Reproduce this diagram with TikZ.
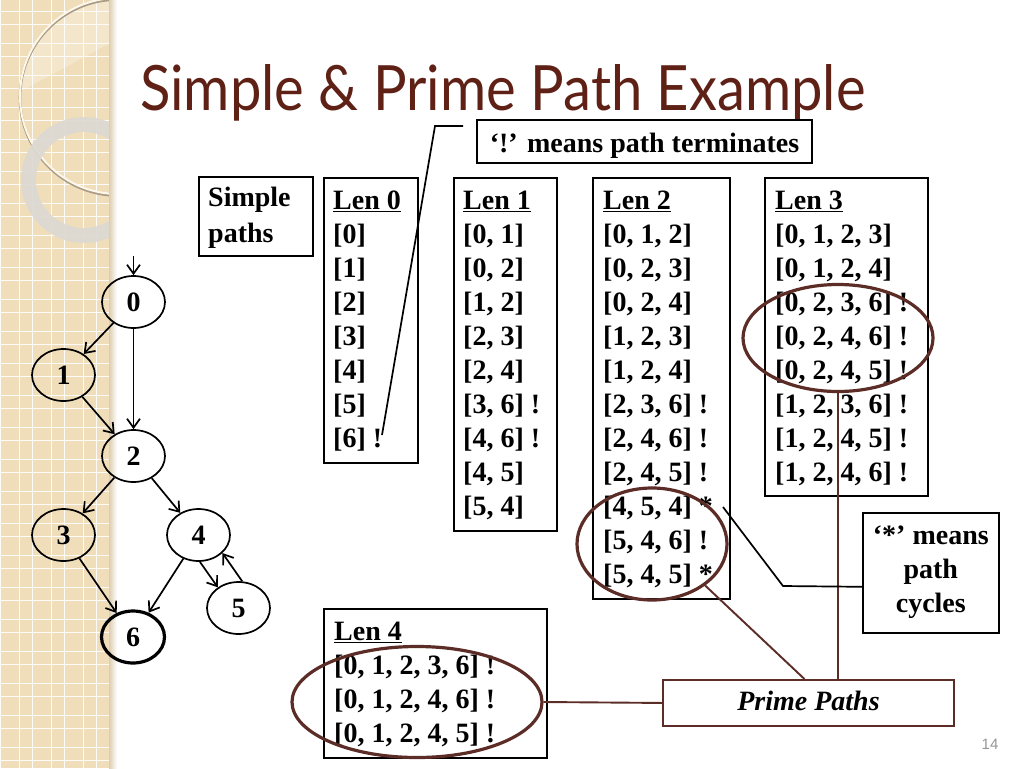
\documentclass[tikz,border=0pt]{standalone}
\usepackage{graphicx}
\usepackage{fontspec}
\setmainfont{Liberation Serif}
\newfontfamily\titlefont{Lato}
\newfontfamily\numfont{Liberation Sans}
\usetikzlibrary{shapes.geometric,arrows.meta}
\definecolor{titlered}{RGB}{95,33,22}
\definecolor{ppbrown}{RGB}{92,44,38}
\definecolor{stripbeige}{RGB}{240,222,186}
\definecolor{stripedge}{RGB}{222,206,176}
\definecolor{ringgrey}{RGB}{220,217,210}
\definecolor{ringcream}{RGB}{252,247,234}
\definecolor{ringshadow}{RGB}{170,155,130}
\definecolor{pagegrey}{RGB}{150,150,150}
\newcommand\firststrut{\rule{0pt}{26.5pt}}
\newcommand\laststrut{\rule[-7.5pt]{0pt}{7.5pt}}
\begin{document}
\begin{tikzpicture}[x=1pt,y=-1pt,
  gridline/.style={draw=white, line width=1.4pt, opacity=0.9},
  pbox/.style={draw, line width=1.6pt, inner sep=0pt, anchor=north west},
  ptext/.style={anchor=north west, inner sep=0pt, align=left, font=\fontsize{28}{34}\selectfont\bfseries},
  gnode/.style={ellipse, draw, line width=1.7pt, minimum width=63pt, minimum height=52pt, inner sep=0pt, font=\fontsize{28}{34}\selectfont\bfseries},
  arr/.style={-{Straight Barb[length=9pt,width=13pt]}, line width=1.7pt},
  conn/.style={line width=1.7pt},
  brownline/.style={draw=ppbrown, line width=1.9pt},
  hell/.style={ellipse, draw=ppbrown, line width=3.2pt, inner sep=0pt}]
\useasboundingbox (0,0) rectangle (1024,768);
\fill[white] (0,0) rectangle (1024,768);
% decorative strip
\begin{scope}
  \clip (0,0) rectangle (112,768);
  \fill[stripbeige] (0,0) rectangle (112,768);
  \foreach \k in {0,...,3} {
    \draw[gridline] (0.3+32*\k,0) -- (0.3+32*\k,768);
    \draw[gridline] (19.3+32*\k,0) -- (19.3+32*\k,768);
  }
  \foreach \k in {0,...,23} {
    \draw[gridline] (0,11.7+32*\k) -- (112,11.7+32*\k);
    \draw[gridline] (0,24.7+32*\k) -- (112,24.7+32*\k);
  }
  \begin{scope}
    \clip (118,96) circle (98);
    \fill[white, opacity=0.25] (0,-5) -- (112,-5) -- (112,42) -- (27,88) -- (0,100) -- cycle;
  \end{scope}
  \draw[ringshadow, line width=2.6pt] (118,97.5) circle (98);
  \draw[ringcream, line width=2pt] (118,96) circle (98);
  \draw[ringgrey, line width=15pt, opacity=0.92] (84,180) circle (55.5);
\end{scope}
\shade[left color=stripedge, right color=white] (109,0) rectangle (117,768);
% title
\node[anchor=base west, inner sep=0pt, text=titlered, font=\titlefont] (title) at (140,110)
  {\resizebox{725pt}{46pt}{Simple \& Prime Path Example}};
% callout boxes
\node[draw, line width=1.6pt, anchor=north, inner sep=0pt, minimum width=335pt,
  text height=32.7pt, text depth=10.3pt, font=\fontsize{28}{34}\selectfont\bfseries] (bang) at (644.5,119)
  {‘!’ means path terminates};
\node[pbox, minimum width=114pt, minimum height=79pt] (sp) at (198,176) {};
\node[ptext, font=\fontsize{28}{36}\selectfont\bfseries] (spt) at ([xshift=10pt,yshift=-3.5pt]sp.north west)
  {\firststrut Simple\\paths};
% path lists
\node[pbox, minimum width=94pt, minimum height=285pt] (len0) at (323,177) {};
\node[ptext] (len0t) at ([xshift=10pt,yshift=-5.5pt]len0.north west)
  {\firststrut\underline{Len 0}\\{}[0]\\{}[1]\\{}[2]\\{}[3]\\{}[4]\\{}[5]\\{}[6] !\laststrut};
\node[pbox, minimum width=103pt, minimum height=353pt] (len1) at (453,177) {};
\node[ptext] (len1t) at ([xshift=10pt,yshift=-5.5pt]len1.north west)
  {\firststrut\underline{Len 1}\\{}[0, 1]\\{}[0, 2]\\{}[1, 2]\\{}[2, 3]\\{}[2, 4]\\{}[3, 6] !\\{}[4, 6] !\\{}[4, 5]\\{}[5, 4]\laststrut};
\node[pbox, minimum width=137pt, minimum height=421pt] (len2) at (592,177) {};
\node[ptext] (len2t) at ([xshift=11pt,yshift=-5.5pt]len2.north west)
  {\firststrut\underline{Len 2}\\{}[0, 1, 2]\\{}[0, 2, 3]\\{}[0, 2, 4]\\{}[1, 2, 3]\\{}[1, 2, 4]\\{}[2, 3, 6] !\\{}[2, 4, 6] !\\{}[2, 4, 5] !\\{}[4, 5, 4] *\\{}[5, 4, 6] !\\{}[5, 4, 5] *\laststrut};
\node[pbox, minimum width=163pt, minimum height=318pt] (len3) at (764,177) {};
\node[ptext] (len3t) at ([xshift=11pt,yshift=-5.5pt]len3.north west)
  {\firststrut\underline{Len 3}\\{}[0, 1, 2, 3]\\{}[0, 1, 2, 4]\\{}[0, 2, 3, 6] !\\{}[0, 2, 4, 6] !\\{}[0, 2, 4, 5] !\\{}[1, 2, 3, 6] !\\{}[1, 2, 4, 5] !\\{}[1, 2, 4, 6] !\laststrut};
\node[pbox, minimum width=223pt, minimum height=149pt] (len4) at (323,608) {};
\node[ptext] (len4t) at ([xshift=11pt,yshift=-5.5pt]len4.north west)
  {\firststrut\underline{Len 4}\\{}[0, 1, 2, 3, 6] !\\{}[0, 1, 2, 4, 6] !\\{}[0, 1, 2, 4, 5] !\laststrut};
% star box
\node[pbox, minimum width=136pt, minimum height=120pt] (star) at (862,512) {};
\node[anchor=north, inner sep=0pt, align=center, font=\fontsize{28}{34}\selectfont\bfseries] (start) at ([yshift=-5.5pt]star.north)
  {\firststrut‘*’ means\\path\\cycles};
% prime paths box
\node[draw=ppbrown, line width=1.9pt, anchor=north west, inner sep=0pt, minimum width=291pt,
  text height=31pt, text depth=15pt, font=\fontsize{28}{34}\selectfont\bfseries\itshape] (pp) at (662,679) {Prime Paths};
% ellipses
\node[hell, minimum width=190pt, minimum height=107pt] (e3) at (838,338) {};
\node[hell, minimum width=150pt, minimum height=112pt] (e2) at (652,544) {};
\node[hell, minimum width=250pt, minimum height=111pt] (e4) at (417,702) {};
% brown connectors
\draw[brownline] (e3.south) -- (e3.south |- pp.north);
\draw[brownline] (e2.-38) -- ([xshift=-4pt]pp.north);
\draw[brownline] (e4.east) -- (pp.west);
% black callout connectors
\coordinate (b1) at (463,126);
\coordinate (b2) at (435,126);
\coordinate (b3) at (382,435);
\draw[conn] (b1) -- (b2) -- (b3);
\coordinate (s2) at (783,586);
\coordinate (s3) at (723,507);
\draw[conn] ([yshift=-14pt]star.west) -- (s2) -- (s3);
% graph
\node[gnode] (n0) at (133.5,302) {0};
\node[gnode] (n1) at (63.5,375) {1};
\node[gnode] (n2) at (133.5,456) {2};
\node[gnode] (n3) at (63.5,535) {3};
\node[gnode] (n4) at (198.5,535) {4};
\node[gnode] (n5) at (238.5,608) {5};
\node[gnode, line width=3.2pt] (n6) at (133,637) {6};
\coordinate (init) at (133.5,256);
\draw[arr] (init) -- (n0);
\draw[arr] (n0) -- (n1);
\draw[arr] (n0) -- (n2);
\draw[arr] (n1) -- (n2);
\draw[arr] (n2) -- (n3);
\draw[arr] (n2) -- (n4);
\draw[arr] (n3) -- (n6);
\draw[arr] (n4) -- (n6);
\draw[arr] (n4.-87) -- (n5.135);
\draw[arr] (n5.82) -- (n4.-37);
% page number
\node[font=\numfont\fontsize{15}{18}\selectfont, text=pagegrey, inner sep=0pt] (pg) at (990,744) {14};
\end{tikzpicture}
\end{document}
